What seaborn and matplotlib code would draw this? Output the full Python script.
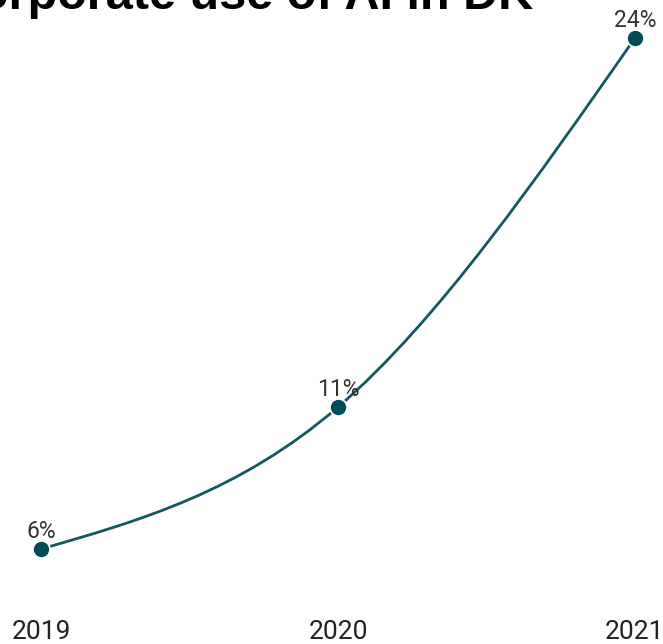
import matplotlib
matplotlib.use('Agg')
import numpy as np
import pandas as pd
import seaborn as sns
import matplotlib.pyplot as plt
from matplotlib.path import Path
from matplotlib.patches import PathPatch

years = [2019, 2020, 2021]
share = [6, 11, 24]
labels = ['6%', '11%', '24%']
title = 'Corporate use of AI in DK'

df = pd.DataFrame({'year': years, 'share': share})

sns.set_theme(style='white')
plt.rcParams['font.family'] = ['Roboto', 'DejaVu Sans']

W, H = 663, 644
fig = plt.figure(figsize=(W / 100, H / 100), dpi=100)
ax = fig.add_axes([0, 30 / H, 1, (H - 30) / H])

line_col = '#14575f'
dot_col = '#004c57'

# smooth line like d3 curveMonotoneX, drawn as bezier segments
x = np.array(years, dtype=float)
y = np.array(share, dtype=float)
h = np.diff(x)
s = np.diff(y) / h
t = np.zeros(len(x))
for i in range(1, len(x) - 1):
    p = (s[i - 1] * h[i] + s[i] * h[i - 1]) / (h[i - 1] + h[i])
    t[i] = (np.sign(s[i - 1]) + np.sign(s[i])) * min(abs(s[i - 1]), abs(s[i]), 0.5 * abs(p))
t[0] = (3 * s[0] - t[1]) / 2
t[-1] = (3 * s[-1] - t[-2]) / 2
verts = [(x[0], y[0])]
codes = [Path.MOVETO]
for i in range(len(x) - 1):
    d = h[i] / 3
    verts += [(x[i] + d, y[i] + t[i] * d), (x[i + 1] - d, y[i + 1] - t[i + 1] * d), (x[i + 1], y[i + 1])]
    codes += [Path.CURVE4] * 3
ax.add_patch(PathPatch(Path(verts, codes), fill=False, edgecolor=line_col, lw=2.0, zorder=2))

sns.scatterplot(data=df, x='year', y='share', ax=ax, s=150, color=dot_col,
                edgecolor='white', linewidth=1.2, zorder=3, legend=False)

for xx, yy, lab in zip(years, share, labels):
    ax.annotate(lab, (xx, yy), xytext=(0, 8), textcoords='offset points',
                ha='center', va='baseline', fontsize=16.5, color='#333333')

ax.set_xlim(2019 - 41 / 297, 2021 + 28 / 297)
ax.set_ylim(6 - 65 / 28.39, 24 + 38 / 28.39)
ax.set_xticks(years)
ax.set_xticklabels([str(v) for v in years], fontsize=19, color='#222222')
ax.tick_params(axis='x', length=0, pad=4.5)
ax.set_yticks([])
ax.set_xlabel('')
ax.set_ylabel('')
for sp in ax.spines.values():
    sp.set_visible(False)

fig.text(-56 / W, (H - 9) / H, title, fontsize=35, fontweight='bold',
         family=['Liberation Sans', 'DejaVu Sans'], va='baseline', ha='left', color='black')

fig.savefig('out.png', dpi=100)
